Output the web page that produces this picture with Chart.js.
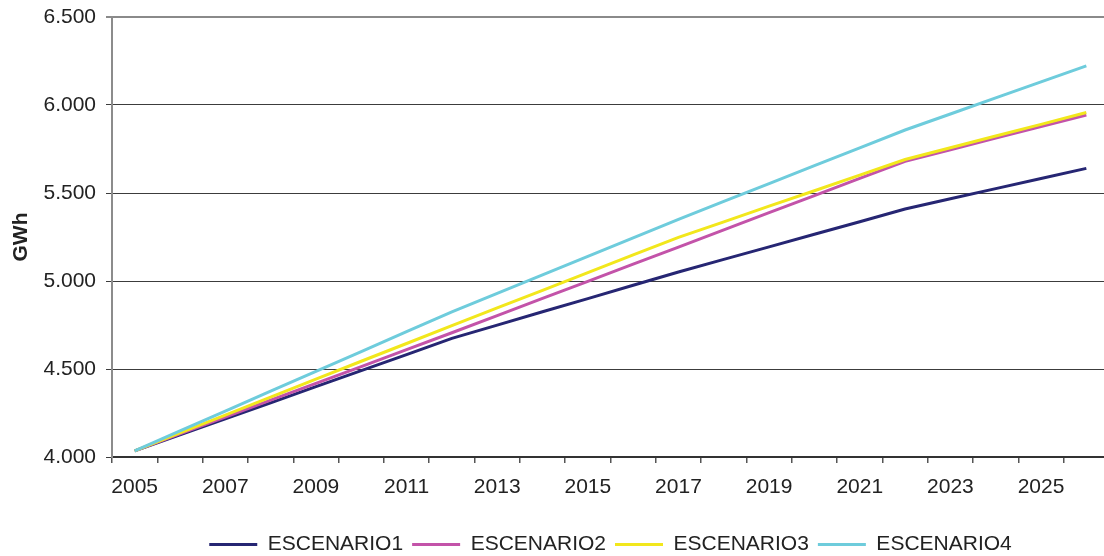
<!DOCTYPE html>
<html>
<head>
<meta charset="utf-8">
<script src="https://cdn.jsdelivr.net/npm/chart.js@4/dist/chart.umd.min.js"></script>
<style>
  html, body { margin: 0; padding: 0; overflow: hidden; background: #ffffff; width: 1104px; height: 556px; }
  #wrap { position: relative; width: 1109px; height: 556px; }
</style>
</head>
<body>
<div id="wrap"><canvas id="chart"></canvas></div>
<script>
// ---- data ----
const years = ['2005','2006','2007','2008','2009','2010','2011','2012','2013','2014','2015',
               '2016','2017','2018','2019','2020','2021','2022','2023','2024','2025','2026'];
const escenario1 = [4035,4126,4217,4308,4400,4491,4582,4674,4749,4825,4900,
                    4976,5051,5123,5194,5266,5337,5409,5467,5525,5582,5640];
const escenario2 = [4035,4131,4227,4323,4418,4514,4610,4706,4803,4901,4998,
                    5096,5193,5290,5388,5485,5583,5680,5746,5812,5877,5943];
const escenario3 = [4035,4137,4238,4340,4442,4544,4645,4747,4847,4947,5048,
                    5148,5248,5336,5425,5513,5602,5690,5757,5824,5890,5957];
const escenario4 = [4035,4148,4261,4374,4486,4599,4712,4825,4930,5035,5140,
                    5245,5350,5452,5553,5655,5756,5858,5949,6040,6131,6222];
const seriesNames = ['ESCENARIO1','ESCENARIO2','ESCENARIO3','ESCENARIO4'];
const yAxisTitle = 'GWh';
const yMin = 4000, yMax = 6500, yStep = 500;

// ---- chart ----
const FONT = "Arial, 'Liberation Sans', sans-serif";
Chart.defaults.font.family = FONT;
Chart.defaults.color = '#222222';

function fmt(v) { return (v / 1000).toFixed(3); }

const colors = ['#262673', '#C353A9', '#F2E71C', '#6ECCDC'];
const values = [escenario1, escenario2, escenario3, escenario4];

new Chart(document.getElementById('chart'), {
  type: 'line',
  data: {
    labels: years,
    datasets: values.map((vals, i) => ({
      label: seriesNames[i],
      data: vals,
      borderColor: colors[i],
      backgroundColor: colors[i],
      borderWidth: 3,
      pointRadius: 0,
      pointHoverRadius: 0,
      tension: 0,
      fill: false,
      pointStyle: 'line',
      order: 4 - i
    }))
  },
  options: {
    responsive: true,
    maintainAspectRatio: false,
    animation: false,
    layout: { padding: { top: 0, left: 0, right: 0, bottom: -9 } },
    plugins: {
      tooltip: { enabled: false },
      legend: {
        position: 'bottom',
        fullSize: false,
        labels: {
          usePointStyle: true,
          pointStyleWidth: 48,
          boxWidth: 48,
          boxHeight: 21,
          padding: 9,
          color: '#222222',
          font: { size: 21, family: FONT },
          sort: (a, b) => a.datasetIndex - b.datasetIndex
        }
      }
    },
    scales: {
      x: {
        type: 'category',
        offset: true,
        border: { display: true, color: '#333333', width: 2 },
        grid: {
          display: true,
          offset: true,
          drawOnChartArea: false,
          drawTicks: true,
          tickLength: 6,
          color: '#555555',
          lineWidth: 1.5
        },
        ticks: {
          autoSkip: false,
          maxRotation: 0,
          minRotation: 0,
          padding: 12,
          color: '#222222',
          font: { size: 21, family: FONT },
          callback: function (value, index) {
            return index % 2 === 0 ? this.getLabelForValue(value) : '';
          }
        },
        afterFit: (scale) => {
          scale.height = 68;
          scale.paddingLeft = 0;
          scale.paddingRight = 0;
        }
      },
      y: {
        min: yMin,
        max: yMax,
        border: { display: true, color: '#8c8c8c', width: 2 },
        grid: {
          drawTicks: true,
          tickLength: 6,
          color: (ctx) => (ctx.tick && ctx.tick.value === yMax) ? '#8a8a8a' : '#3c3c3c',
          lineWidth: (ctx) => (ctx.tick && ctx.tick.value === yMax) ? 2 : 1
        },
        ticks: {
          stepSize: yStep,
          padding: 10,
          color: '#222222',
          font: { size: 21, family: FONT },
          callback: (v) => fmt(v)
        },
        title: {
          display: true,
          text: yAxisTitle,
          color: '#222222',
          font: { size: 21, weight: 'bold', family: FONT },
          padding: { top: 9, bottom: 0 }
        },
        afterFit: (scale) => {
          scale.width = 112;
          scale.paddingTop = 17;
          scale.paddingBottom = 0;
        }
      }
    }
  }
});
</script>
</body>
</html>
